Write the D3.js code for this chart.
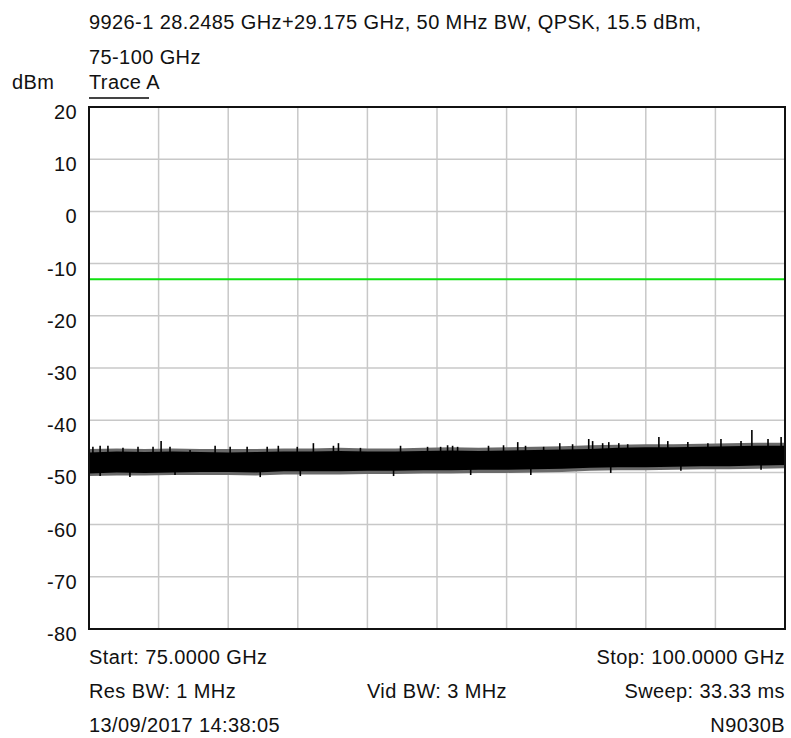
<!DOCTYPE html>
<html>
<head>
<meta charset="utf-8">
<script src="https://cdn.jsdelivr.net/npm/d3@7.9.0/dist/d3.min.js"></script>
<style>
  body { margin: 0; background: #fff; }
  svg text { font-family: "Liberation Sans", Arial, sans-serif; font-size: 20px; letter-spacing: 0.4px; fill: #111; }
</style>
</head>
<body>
<svg id="chart" width="791" height="738"></svg>
<script>
const titleLines = ['9926-1 28.2485 GHz+29.175 GHz, 50 MHz BW, QPSK, 15.5 dBm,', '75-100 GHz'];
const yTicks = [20, 10, 0, -10, -20, -30, -40, -50, -60, -70, -80];
const xGrid = [75, 77.5, 80, 82.5, 85, 87.5, 90, 92.5, 95, 97.5, 100];
const limitLine = -13;

// dense noise band (GHz, dBm)
const bandFreq  = [75, 76, 77, 78, 79, 80, 81, 82, 83, 84, 85, 86, 87, 88, 89, 90, 91, 92, 93, 94, 95, 96, 97, 98, 99, 100];
const bandUpper = [-46.2, -46.0, -46.1, -46.0, -46.1, -46.2, -46.1, -46.0, -46.0, -45.9, -46.0, -46.0, -45.9,
                   -45.8, -45.9, -45.8, -45.7, -45.6, -45.5, -45.3, -45.2, -45.2, -45.1, -45.0, -44.9, -44.9];
const bandLower = [-50.2, -50.0, -50.1, -50.0, -49.9, -49.9, -50.0, -49.8, -49.8, -49.8, -49.7, -49.7, -49.6,
                   -49.6, -49.5, -49.5, -49.4, -49.3, -49.1, -49.0, -49.0, -48.9, -48.8, -48.8, -48.7, -48.6];
// fuzzy edge of the band
const fringeUpper = [-45.5, -45.4, -45.5, -45.4, -45.5, -45.5, -45.5, -45.4, -45.4, -45.3, -45.4, -45.4, -45.3,
                     -45.2, -45.3, -45.2, -45.1, -45.0, -44.8, -44.7, -44.6, -44.6, -44.5, -44.4, -44.3, -44.3];
const fringeLower = [-50.7, -50.6, -50.6, -50.5, -50.5, -50.5, -50.6, -50.4, -50.4, -50.4, -50.3, -50.3, -50.2,
                     -50.2, -50.1, -50.1, -50.0, -49.9, -49.7, -49.6, -49.6, -49.5, -49.4, -49.4, -49.3, -49.2];

// peaks sticking out of the band
const peakFreq = [75.14, 75.40, 75.68, 76.22, 76.76, 77.30, 77.59, 77.91, 78.63, 79.53, 80.07, 80.68, 81.40, 81.80,
                  82.48, 83.06, 83.78, 83.96, 84.75, 86.19, 87.16, 87.63, 87.88, 88.06, 88.24, 89.35, 89.89, 90.40,
                  90.68, 91.33, 91.91, 92.37, 92.95, 93.09, 93.45, 93.67, 94.03, 94.35, 95.47, 95.79, 96.51, 97.23,
                  97.70, 98.42, 98.81, 99.39, 99.86];
const peakLevel = [-45.1, -44.9, -44.9, -45.3, -45.1, -45.1, -44.0, -45.1, -45.7, -44.9, -45.1, -45.1, -45.1, -44.9,
                   -45.1, -44.4, -44.9, -44.4, -45.3, -44.9, -45.1, -45.1, -44.8, -44.9, -45.1, -44.9, -44.8, -44.2,
                   -44.9, -45.1, -44.4, -44.6, -43.6, -44.0, -44.4, -44.2, -44.4, -44.6, -43.2, -44.0, -44.2, -44.4,
                   -43.6, -44.0, -41.9, -43.6, -43.2];
const dipFreq  = [75.40, 76.47, 78.09, 81.15, 82.59, 85.94, 88.71, 90.87, 93.74, 96.26, 99.14];
const dipLevel = [-50.7, -50.9, -50.5, -50.9, -50.7, -50.7, -50.5, -50.5, -50.1, -49.7, -49.5];

const footer = [
  { left: 'Start: 75.0000 GHz', mid: '', right: 'Stop: 100.0000 GHz' },
  { left: 'Res BW: 1 MHz', mid: 'Vid BW: 3 MHz', right: 'Sweep: 33.33 ms' },
  { left: '13/09/2017 14:38:05', mid: '', right: 'N9030B' }
];

// ---- layout ----
const svg = d3.select('#chart');
const plotL = 89, plotR = 785, plotT = 107, plotB = 629;

const x = d3.scaleLinear().domain([75, 100]).range([plotL, plotR]);
const y = d3.scaleLinear().domain([-80, 20]).range([plotB, plotT]);

// grid
svg.append('g').selectAll('line')
  .data(xGrid.slice(1, -1))
  .join('line')
  .attr('x1', d => x(d)).attr('x2', d => x(d))
  .attr('y1', plotT).attr('y2', plotB)
  .attr('stroke', '#c8c8c8').attr('stroke-width', 1.5);

svg.append('g').selectAll('line')
  .data(yTicks.slice(1, -1))
  .join('line')
  .attr('x1', plotL).attr('x2', plotR)
  .attr('y1', d => y(d)).attr('y2', d => y(d))
  .attr('stroke', '#c8c8c8').attr('stroke-width', 1.5);

// y labels
svg.append('g').selectAll('text')
  .data(yTicks)
  .join('text')
  .attr('x', 77)
  .attr('y', d => y(d) + 12)
  .attr('text-anchor', 'end')
  .text(d => d);

// limit line
svg.append('line')
  .attr('x1', plotL).attr('x2', plotR)
  .attr('y1', y(limitLine)).attr('y2', y(limitLine))
  .attr('stroke', '#10e010').attr('stroke-width', 2);

// noise band: fuzzy fringe first, then the solid core
const band = bandFreq.map((f, i) => ({
  f, hi: bandUpper[i], lo: bandLower[i], fhi: fringeUpper[i], flo: fringeLower[i]
}));
svg.append('path')
  .datum(band)
  .attr('d', d3.area().x(d => x(d.f)).y0(d => y(d.flo)).y1(d => y(d.fhi)))
  .attr('fill', '#6a6a6a');
svg.append('path')
  .datum(band)
  .attr('d', d3.area().x(d => x(d.f)).y0(d => y(d.lo)).y1(d => y(d.hi)))
  .attr('fill', '#000');

// peaks and dips
const bandHi = d3.scaleLinear().domain(bandFreq).range(bandUpper);
const bandLo = d3.scaleLinear().domain(bandFreq).range(bandLower);
svg.append('g').selectAll('line')
  .data(peakFreq.map((f, i) => ({ f, v: peakLevel[i] })))
  .join('line')
  .attr('x1', d => x(d.f)).attr('x2', d => x(d.f))
  .attr('y1', d => y(bandHi(d.f)) + 2).attr('y2', d => y(d.v))
  .attr('stroke', '#000').attr('stroke-width', 1.6);
svg.append('g').selectAll('line')
  .data(dipFreq.map((f, i) => ({ f, v: dipLevel[i] })))
  .join('line')
  .attr('x1', d => x(d.f)).attr('x2', d => x(d.f))
  .attr('y1', d => y(bandLo(d.f)) - 2).attr('y2', d => y(d.v))
  .attr('stroke', '#000').attr('stroke-width', 1.6);

// frame
svg.append('rect')
  .attr('x', plotL).attr('y', plotT)
  .attr('width', plotR - plotL).attr('height', plotB - plotT)
  .attr('fill', 'none').attr('stroke', '#111').attr('stroke-width', 2);

// header
svg.append('g').selectAll('text')
  .data(titleLines)
  .join('text')
  .attr('x', plotL).attr('y', (d, i) => 29 + i * 35)
  .text(d => d);
svg.append('text').attr('x', 12).attr('y', 89).text('dBm');
svg.append('text').attr('x', plotL).attr('y', 89).text('Trace A');
svg.append('line')
  .attr('x1', plotL).attr('x2', 149).attr('y1', 98).attr('y2', 98)
  .attr('stroke', '#444').attr('stroke-width', 2);

// footer
const rows = svg.append('g').selectAll('g')
  .data(footer)
  .join('g')
  .attr('transform', (d, i) => `translate(0,${664 + i * 34})`);
rows.append('text').attr('x', plotL).text(d => d.left);
rows.append('text').attr('x', (plotL + plotR) / 2).attr('text-anchor', 'middle').text(d => d.mid);
rows.append('text').attr('x', plotR).attr('text-anchor', 'end').text(d => d.right);
</script>
</body>
</html>
